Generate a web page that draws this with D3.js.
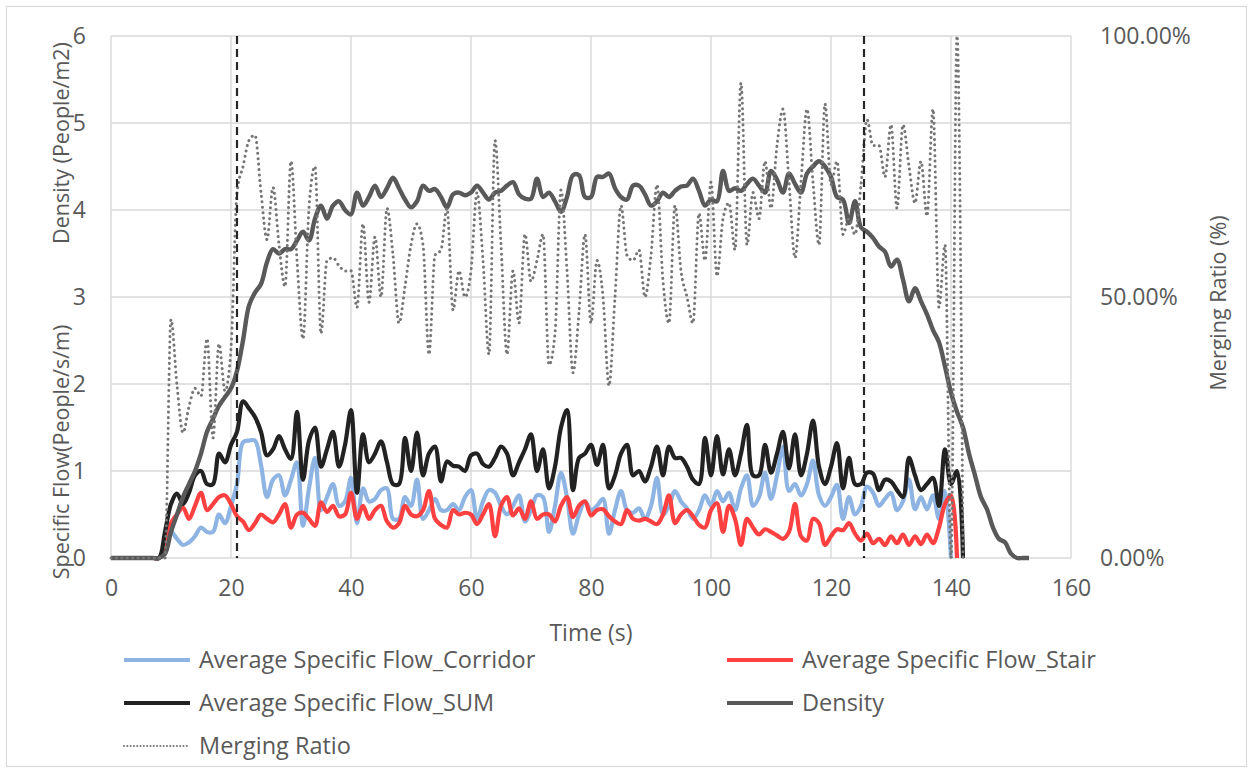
<!DOCTYPE html>
<html>
<head>
<meta charset="utf-8">
<script src="https://cdn.jsdelivr.net/npm/d3@7"></script>
<style>
  body { margin: 0; background: #fff; }
  text { font-family: "Open Sans", sans-serif; fill: #595959; }
</style>
</head>
<body>
<svg id="chart" width="1252" height="770"></svg>
<script>
// time in seconds, one sample per second
const TIME = d3.range(0, 154);

const CORRIDOR = [0,0,0,0,0,0,0,0,0,
  0.05,0.3,0.22,0.15,0.18,0.25,0.35,0.3,0.3,0.5,0.4,
  0.6,0.85,1.33,1.35,1.35,1.07,0.7,0.9,0.95,0.72,
  0.9,1.1,0.37,0.8,1.15,0.55,0.7,0.85,0.6,0.65,
  0.92,0.4,0.8,0.65,0.68,0.78,0.8,0.45,0.45,0.7,
  0.6,0.9,0.45,0.55,0.68,0.55,0.55,0.62,0.55,0.7,
  0.78,0.45,0.65,0.78,0.75,0.6,0.5,0.6,0.72,0.42,
  0.55,0.72,0.7,0.3,0.6,0.98,0.7,0.28,0.5,0.65,
  0.55,0.6,0.68,0.28,0.55,0.77,0.55,0.52,0.57,0.45,
  0.6,0.92,0.5,0.6,0.77,0.65,0.57,0.45,0.55,0.72,
  0.6,0.77,0.65,0.75,0.55,0.8,0.95,0.6,0.7,0.98,
  0.68,0.95,1.28,0.77,0.85,0.72,0.85,1.12,0.72,0.6,
  0.7,0.84,0.45,0.7,0.5,0.6,0.82,0.75,0.6,0.68,
  0.75,0.55,0.65,0.9,0.56,0.7,0.56,0.72,0.45,0.77,
  0];

const STAIR = [0,0,0,0,0,0,0,0,0,
  0.15,0.4,0.5,0.58,0.45,0.6,0.75,0.55,0.62,0.7,0.72,
  0.62,0.48,0.42,0.32,0.4,0.5,0.45,0.41,0.5,0.62,
  0.35,0.5,0.52,0.45,0.37,0.64,0.53,0.6,0.48,0.5,
  0.75,0.45,0.6,0.45,0.55,0.6,0.42,0.35,0.4,0.6,
  0.5,0.48,0.55,0.77,0.45,0.38,0.35,0.55,0.5,0.52,
  0.5,0.39,0.5,0.62,0.25,0.6,0.7,0.49,0.57,0.45,
  0.65,0.45,0.5,0.5,0.42,0.6,0.7,0.47,0.6,0.65,
  0.49,0.55,0.56,0.48,0.42,0.39,0.55,0.45,0.43,0.45,
  0.42,0.39,0.5,0.72,0.4,0.5,0.55,0.48,0.38,0.35,
  0.55,0.63,0.3,0.6,0.45,0.15,0.45,0.35,0.27,0.33,
  0.3,0.26,0.22,0.3,0.62,0.25,0.2,0.45,0.4,0.15,
  0.25,0.33,0.32,0.4,0.28,0.2,0.28,0.17,0.22,0.15,
  0.25,0.17,0.27,0.15,0.25,0.16,0.27,0.17,0.35,0.62,
  0.72,0];

const SUM = [0,0,0,0,0,0,0,0,0,
  0.3,0.62,0.74,0.62,0.75,0.95,1.0,0.85,0.85,1.2,1.1,
  1.3,1.45,1.8,1.72,1.62,1.45,1.18,1.25,1.4,1.25,
  1.14,1.68,0.9,1.35,1.5,1.05,1.25,1.45,1.05,1.3,
  1.7,0.75,1.42,1.1,1.2,1.34,1.1,0.85,0.85,1.38,
  1.0,1.44,0.95,1.2,1.28,0.88,1.11,1.06,1.05,1.0,
  1.18,1.2,1.08,1.05,1.15,1.28,1.2,0.95,1.1,1.25,
  1.42,1.0,1.25,0.8,1.05,1.5,1.7,0.78,1.15,1.2,
  1.3,1.07,1.3,0.8,0.95,1.2,1.3,0.95,1.0,0.88,
  1.05,1.28,0.95,1.28,1.15,1.15,1.05,0.9,0.85,1.38,
  0.95,1.4,0.96,1.25,0.95,1.2,1.53,0.95,0.95,1.3,
  0.98,1.2,1.45,1.03,1.42,0.95,1.2,1.58,1.05,0.85,
  1.05,1.32,0.8,1.15,0.85,0.85,0.98,0.97,0.78,0.9,
  0.88,0.78,0.7,1.15,0.95,0.78,0.85,0.92,0.6,1.25,
  0.85,1.0,0];

const DENSITY = [0,0,0,0,0,0,0,0,0,
  0.05,0.3,0.5,0.7,0.85,1.0,1.2,1.45,1.6,1.75,1.85,
  1.95,2.15,2.5,2.9,3.05,3.15,3.4,3.55,3.5,3.55,
  3.55,3.65,3.75,3.65,3.9,4.05,3.9,4.05,4.1,4.0,
  3.95,4.2,4.05,4.15,4.28,4.15,4.25,4.37,4.25,4.12,
  4.03,4.1,4.28,4.22,4.24,4.15,4.03,4.18,4.2,4.17,
  4.2,4.28,4.2,4.12,4.2,4.22,4.28,4.32,4.18,4.13,
  4.13,4.36,4.15,4.2,4.1,3.98,4.15,4.4,4.4,4.15,
  4.15,4.38,4.38,4.42,4.25,4.15,4.12,4.28,4.28,4.18,
  4.05,4.1,4.2,4.15,4.22,4.27,4.28,4.36,4.22,4.05,
  4.12,4.1,4.45,4.22,4.25,4.22,4.3,4.36,4.28,4.2,
  4.45,4.35,4.2,4.42,4.3,4.2,4.42,4.5,4.56,4.5,
  4.38,4.15,4.12,3.85,4.1,3.8,3.75,3.68,3.58,3.52,
  3.35,3.43,3.2,2.95,3.1,2.95,2.8,2.62,2.48,2.2,
  1.9,1.68,1.5,1.2,0.95,0.7,0.56,0.35,0.22,0.18,
  0.05,0,0,0];

// merging ratio, percent (right axis)
const MERGING = [0,0,0,0,0,0,0,0,0,0,
  45.7,33,24,29,32.5,31,42,23,41,32,
  40,70,75,80,81,70,61,71,60,52,
  76,57,42,67,75,43,57,57.5,56,55,
  55,48,64,49,61.5,50,67,58,45,52,
  60,64,60,39,58,59,67,47.5,55,50,
  55,70,57,39,80,60,39,55,45,62,
  53,57,62,37,43,70.5,55,35.5,47,62,
  45,57,50,33,50,67.5,58,57,59,50,
  58,71.5,53,45,67.5,55,50,45,66,57,
  72,54,65,68,59,91,60,70,65,76,
  67,79,86,72,57.5,72,86,72,60,87,
  71.5,76,62,65,62,71.5,84,79,79,73,
  83,67,83,75,68,76,65.5,86,48,60,
  0,100,0];

const MARKERS = [21, 125.5];
const X_TICKS = [0, 20, 40, 60, 80, 100, 120, 140, 160];
const Y_TICKS = [0, 1, 2, 3, 4, 5, 6];
const R_TICKS = [0, 50, 100];

const SERIES = [
  { name: "Average Specific Flow_Corridor", values: CORRIDOR, color: "#8db4e2", width: 4.2, axis: "left" },
  { name: "Average Specific Flow_Stair", values: STAIR, color: "#ff4040", width: 4.2, axis: "left" },
  { name: "Average Specific Flow_SUM", values: SUM, color: "#222222", width: 4.2, axis: "left" },
  { name: "Density", values: DENSITY, color: "#595959", width: 4.4, axis: "left" },
  { name: "Merging Ratio", values: MERGING, color: "#767676", width: 3, axis: "right", dotted: true }
];

const PLOT = { left: 111, right: 1071, top: 36, bottom: 558 };
const FONT = "23px";

const svg = d3.select("#chart");

svg.append("rect")
  .attr("x", 6.5).attr("y", 6.5)
  .attr("width", 1240).attr("height", 760)
  .attr("fill", "#fff").attr("stroke", "#d9d9d9").attr("stroke-width", 1.2);

const x = d3.scaleLinear().domain([0, 160]).range([PLOT.left, PLOT.right]);
const y = d3.scaleLinear().domain([0, 6]).range([PLOT.bottom, PLOT.top]);
const yR = d3.scaleLinear().domain([0, 100]).range([PLOT.bottom, PLOT.top]);

// grid
const grid = svg.append("g").attr("stroke", "#d9d9d9").attr("stroke-width", 1.4);
grid.selectAll(".hg").data(Y_TICKS).enter().append("line")
  .attr("x1", PLOT.left).attr("x2", PLOT.right)
  .attr("y1", d => y(d)).attr("y2", d => y(d));
grid.selectAll(".vg").data(X_TICKS).enter().append("line")
  .attr("y1", PLOT.top).attr("y2", PLOT.bottom)
  .attr("x1", d => x(d)).attr("x2", d => x(d));

// axes (labels only, Excel style)
const xAxis = svg.append("g")
  .attr("transform", `translate(0,${PLOT.bottom})`)
  .call(d3.axisBottom(x).tickValues(X_TICKS).tickSize(0).tickPadding(22));
const yAxis = svg.append("g")
  .attr("transform", `translate(${PLOT.left},0)`)
  .call(d3.axisLeft(y).tickValues(Y_TICKS).tickSize(0).tickPadding(25)
    .tickFormat(d3.format("d")));
const rAxis = svg.append("g")
  .attr("transform", `translate(${PLOT.right},0)`)
  .call(d3.axisRight(yR).tickValues(R_TICKS).tickSize(0).tickPadding(29)
    .tickFormat(d => d.toFixed(2) + "%"));
[xAxis, yAxis, rAxis].forEach(g => {
  g.select(".domain").remove();
  g.selectAll("text").style("font-size", FONT).attr("fill", "#595959")
    .style("font-family", "'Open Sans', sans-serif");
});

// series
const plotArea = svg.append("g");
SERIES.forEach(s => {
  const scale = s.axis === "right" ? yR : y;
  const pts = TIME.map((t, i) => ({ t: t, v: s.values[i] == null ? null : s.values[i] }));
  const line = d3.line()
    .defined(d => d.v != null)
    .x(d => x(d.t))
    .y(d => scale(d.v))
    .curve(s.dotted ? d3.curveMonotoneX : d3.curveCatmullRom.alpha(0.5));
  const path = plotArea.append("path")
    .datum(pts)
    .attr("fill", "none")
    .attr("stroke", s.color)
    .attr("stroke-width", s.width)
    .attr("stroke-linejoin", "round")
    .attr("d", line);
  if (s.dotted) {
    path.attr("stroke-dasharray", "0.1 5.3").attr("stroke-linecap", "round");
  }
});

// vertical markers
svg.selectAll(".marker").data(MARKERS).enter().append("line")
  .attr("x1", d => x(d)).attr("x2", d => x(d))
  .attr("y1", PLOT.top).attr("y2", PLOT.bottom)
  .attr("stroke", "#262626").attr("stroke-width", 2.2)
  .attr("stroke-dasharray", "8 5");

// axis titles
svg.append("text")
  .attr("x", 591).attr("y", 641)
  .attr("text-anchor", "middle").style("font-size", FONT)
  .text("Time (s)");
svg.append("text")
  .attr("transform", "translate(69,143) rotate(-90)")
  .attr("text-anchor", "middle").style("font-size", "21.5px")
  .text("Density (People/m2)");
svg.append("text")
  .attr("transform", "translate(69,452) rotate(-90)")
  .attr("text-anchor", "middle").style("font-size", "21.5px")
  .text("Specific Flow(People/s/m)");
svg.append("text")
  .attr("transform", "translate(1226,303) rotate(-90)")
  .attr("text-anchor", "middle").style("font-size", "21.5px")
  .text("Merging Ratio (%)");

// legend
const legendPos = [
  { x: 124, y: 660 }, { x: 727, y: 660 },
  { x: 124, y: 703 }, { x: 727, y: 703 },
  { x: 124, y: 746 }
];
const legend = svg.selectAll(".legend").data(SERIES).enter().append("g")
  .attr("transform", (d, i) => `translate(${legendPos[i].x},${legendPos[i].y})`);
legend.append("line")
  .attr("x1", 0).attr("x2", 66).attr("y1", 0).attr("y2", 0)
  .attr("stroke", d => d.color)
  .attr("stroke-width", d => d.dotted ? 2 : 4.2)
  .attr("stroke-dasharray", d => d.dotted ? "0.1 3.2" : null)
  .attr("stroke-linecap", d => d.dotted ? "round" : "butt");
legend.append("text")
  .attr("x", 75).attr("y", 8)
  .style("font-size", "23.5px")
  .text(d => d.name);
</script>
</body>
</html>
